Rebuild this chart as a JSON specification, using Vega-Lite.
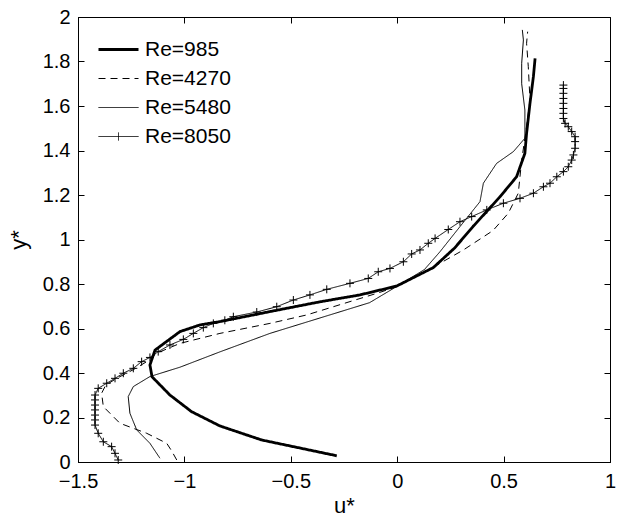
{
  "$schema": "https://vega.github.io/schema/vega-lite/v6.json",
  "autosize": {"type": "none"},
  "padding": {"left": 78, "top": 17, "right": 17, "bottom": 60},
  "width": 532,
  "height": 445,
  "background": "white",
  "config": {
    "view": {"stroke": "black", "strokeWidth": 1},
    "axis": {
      "grid": false,
      "domainColor": "black",
      "tickColor": "black",
      "labelColor": "black",
      "titleColor": "black",
      "labelFont": "Liberation Sans",
      "titleFont": "Liberation Sans",
      "labelFontSize": 20,
      "titleFontSize": 22,
      "titleFontWeight": "normal",
      "labelFlush": false,
      "labelOverlap": false,
      "tickSize": -6,
      "labelPadding": 14
    }
  },
  "data": {
    "values": [
      {"s": "Re=985", "u": -0.284, "y": 0.028},
      {"s": "Re=985", "u": -0.637, "y": 0.099},
      {"s": "Re=985", "u": -0.833, "y": 0.162},
      {"s": "Re=985", "u": -0.966, "y": 0.226},
      {"s": "Re=985", "u": -1.068, "y": 0.301},
      {"s": "Re=985", "u": -1.152, "y": 0.383},
      {"s": "Re=985", "u": -1.162, "y": 0.436},
      {"s": "Re=985", "u": -1.138, "y": 0.503},
      {"s": "Re=985", "u": -1.021, "y": 0.586},
      {"s": "Re=985", "u": -0.927, "y": 0.616},
      {"s": "Re=985", "u": -0.833, "y": 0.631},
      {"s": "Re=985", "u": -0.598, "y": 0.676},
      {"s": "Re=985", "u": -0.363, "y": 0.72},
      {"s": "Re=985", "u": -0.175, "y": 0.751},
      {"s": "Re=985", "u": -0.002, "y": 0.791},
      {"s": "Re=985", "u": 0.17, "y": 0.874},
      {"s": "Re=985", "u": 0.27, "y": 0.962},
      {"s": "Re=985", "u": 0.356, "y": 1.058},
      {"s": "Re=985", "u": 0.483, "y": 1.192},
      {"s": "Re=985", "u": 0.561, "y": 1.282},
      {"s": "Re=985", "u": 0.6, "y": 1.387},
      {"s": "Re=985", "u": 0.608, "y": 1.477},
      {"s": "Re=985", "u": 0.624, "y": 1.612},
      {"s": "Re=985", "u": 0.64, "y": 1.732},
      {"s": "Re=985", "u": 0.648, "y": 1.814},

      {"s": "Re=4270", "u": -1.036, "y": 0.009},
      {"s": "Re=4270", "u": -1.06, "y": 0.05},
      {"s": "Re=4270", "u": -1.083, "y": 0.084},
      {"s": "Re=4270", "u": -1.177, "y": 0.129},
      {"s": "Re=4270", "u": -1.303, "y": 0.174},
      {"s": "Re=4270", "u": -1.381, "y": 0.249},
      {"s": "Re=4270", "u": -1.389, "y": 0.309},
      {"s": "Re=4270", "u": -1.37, "y": 0.345},
      {"s": "Re=4270", "u": -1.32, "y": 0.375},
      {"s": "Re=4270", "u": -1.24, "y": 0.415},
      {"s": "Re=4270", "u": -1.17, "y": 0.455},
      {"s": "Re=4270", "u": -1.13, "y": 0.489},
      {"s": "Re=4270", "u": -1.021, "y": 0.533},
      {"s": "Re=4270", "u": -0.833, "y": 0.578},
      {"s": "Re=4270", "u": -0.598, "y": 0.623},
      {"s": "Re=4270", "u": -0.425, "y": 0.661},
      {"s": "Re=4270", "u": -0.096, "y": 0.758},
      {"s": "Re=4270", "u": 0.0, "y": 0.788},
      {"s": "Re=4270", "u": 0.15, "y": 0.865},
      {"s": "Re=4270", "u": 0.311, "y": 0.953},
      {"s": "Re=4270", "u": 0.45, "y": 1.04},
      {"s": "Re=4270", "u": 0.522, "y": 1.118},
      {"s": "Re=4270", "u": 0.569, "y": 1.208},
      {"s": "Re=4270", "u": 0.585, "y": 1.357},
      {"s": "Re=4270", "u": 0.608, "y": 1.507},
      {"s": "Re=4270", "u": 0.624, "y": 1.627},
      {"s": "Re=4270", "u": 0.616, "y": 1.777},
      {"s": "Re=4270", "u": 0.608, "y": 1.882},
      {"s": "Re=4270", "u": 0.613, "y": 1.934},

      {"s": "Re=5480", "u": -1.115, "y": 0.017},
      {"s": "Re=5480", "u": -1.162, "y": 0.084},
      {"s": "Re=5480", "u": -1.224, "y": 0.144},
      {"s": "Re=5480", "u": -1.256, "y": 0.219},
      {"s": "Re=5480", "u": -1.264, "y": 0.294},
      {"s": "Re=5480", "u": -1.24, "y": 0.339},
      {"s": "Re=5480", "u": -1.162, "y": 0.384},
      {"s": "Re=5480", "u": -1.021, "y": 0.426},
      {"s": "Re=5480", "u": -0.833, "y": 0.495},
      {"s": "Re=5480", "u": -0.598, "y": 0.578},
      {"s": "Re=5480", "u": -0.13, "y": 0.716},
      {"s": "Re=5480", "u": -0.002, "y": 0.789},
      {"s": "Re=5480", "u": 0.128, "y": 0.865},
      {"s": "Re=5480", "u": 0.201, "y": 0.945},
      {"s": "Re=5480", "u": 0.295, "y": 1.058},
      {"s": "Re=5480", "u": 0.389, "y": 1.17},
      {"s": "Re=5480", "u": 0.405, "y": 1.253},
      {"s": "Re=5480", "u": 0.467, "y": 1.342},
      {"s": "Re=5480", "u": 0.546, "y": 1.395},
      {"s": "Re=5480", "u": 0.6, "y": 1.455},
      {"s": "Re=5480", "u": 0.6, "y": 1.582},
      {"s": "Re=5480", "u": 0.585, "y": 1.7},
      {"s": "Re=5480", "u": 0.585, "y": 1.792},
      {"s": "Re=5480", "u": 0.593, "y": 1.897},
      {"s": "Re=5480", "u": 0.588, "y": 1.942},

      {"s": "Re=8050", "u": -1.311, "y": 0.009},
      {"s": "Re=8050", "u": -1.326, "y": 0.039},
      {"s": "Re=8050", "u": -1.342, "y": 0.069},
      {"s": "Re=8050", "u": -1.381, "y": 0.091},
      {"s": "Re=8050", "u": -1.405, "y": 0.129},
      {"s": "Re=8050", "u": -1.42, "y": 0.166},
      {"s": "Re=8050", "u": -1.42, "y": 0.189},
      {"s": "Re=8050", "u": -1.42, "y": 0.211},
      {"s": "Re=8050", "u": -1.42, "y": 0.234},
      {"s": "Re=8050", "u": -1.42, "y": 0.256},
      {"s": "Re=8050", "u": -1.42, "y": 0.279},
      {"s": "Re=8050", "u": -1.42, "y": 0.301},
      {"s": "Re=8050", "u": -1.405, "y": 0.331},
      {"s": "Re=8050", "u": -1.365, "y": 0.354},
      {"s": "Re=8050", "u": -1.326, "y": 0.376},
      {"s": "Re=8050", "u": -1.287, "y": 0.399},
      {"s": "Re=8050", "u": -1.24, "y": 0.421},
      {"s": "Re=8050", "u": -1.201, "y": 0.451},
      {"s": "Re=8050", "u": -1.162, "y": 0.47},
      {"s": "Re=8050", "u": -1.123, "y": 0.496},
      {"s": "Re=8050", "u": -1.068, "y": 0.526},
      {"s": "Re=8050", "u": -1.005, "y": 0.551},
      {"s": "Re=8050", "u": -0.958, "y": 0.578},
      {"s": "Re=8050", "u": -0.911, "y": 0.604},
      {"s": "Re=8050", "u": -0.864, "y": 0.623},
      {"s": "Re=8050", "u": -0.81, "y": 0.637},
      {"s": "Re=8050", "u": -0.77, "y": 0.653},
      {"s": "Re=8050", "u": -0.66, "y": 0.674},
      {"s": "Re=8050", "u": -0.566, "y": 0.698},
      {"s": "Re=8050", "u": -0.488, "y": 0.728},
      {"s": "Re=8050", "u": -0.41, "y": 0.751},
      {"s": "Re=8050", "u": -0.331, "y": 0.776},
      {"s": "Re=8050", "u": -0.222, "y": 0.803},
      {"s": "Re=8050", "u": -0.136, "y": 0.825},
      {"s": "Re=8050", "u": -0.089, "y": 0.855},
      {"s": "Re=8050", "u": -0.034, "y": 0.87},
      {"s": "Re=8050", "u": 0.029, "y": 0.9},
      {"s": "Re=8050", "u": 0.068, "y": 0.935},
      {"s": "Re=8050", "u": 0.107, "y": 0.953},
      {"s": "Re=8050", "u": 0.146, "y": 0.983},
      {"s": "Re=8050", "u": 0.178, "y": 1.005},
      {"s": "Re=8050", "u": 0.24, "y": 1.045},
      {"s": "Re=8050", "u": 0.295, "y": 1.08},
      {"s": "Re=8050", "u": 0.35, "y": 1.103},
      {"s": "Re=8050", "u": 0.421, "y": 1.133},
      {"s": "Re=8050", "u": 0.499, "y": 1.163},
      {"s": "Re=8050", "u": 0.577, "y": 1.185},
      {"s": "Re=8050", "u": 0.64, "y": 1.208},
      {"s": "Re=8050", "u": 0.687, "y": 1.237},
      {"s": "Re=8050", "u": 0.718, "y": 1.253},
      {"s": "Re=8050", "u": 0.75, "y": 1.282},
      {"s": "Re=8050", "u": 0.781, "y": 1.305},
      {"s": "Re=8050", "u": 0.804, "y": 1.327},
      {"s": "Re=8050", "u": 0.82, "y": 1.357},
      {"s": "Re=8050", "u": 0.828, "y": 1.38},
      {"s": "Re=8050", "u": 0.836, "y": 1.41},
      {"s": "Re=8050", "u": 0.836, "y": 1.44},
      {"s": "Re=8050", "u": 0.836, "y": 1.462},
      {"s": "Re=8050", "u": 0.82, "y": 1.485},
      {"s": "Re=8050", "u": 0.804, "y": 1.507},
      {"s": "Re=8050", "u": 0.789, "y": 1.522},
      {"s": "Re=8050", "u": 0.781, "y": 1.544},
      {"s": "Re=8050", "u": 0.781, "y": 1.567},
      {"s": "Re=8050", "u": 0.781, "y": 1.589},
      {"s": "Re=8050", "u": 0.781, "y": 1.612},
      {"s": "Re=8050", "u": 0.781, "y": 1.634},
      {"s": "Re=8050", "u": 0.781, "y": 1.657},
      {"s": "Re=8050", "u": 0.781, "y": 1.679},
      {"s": "Re=8050", "u": 0.781, "y": 1.694}
    ]
  },
  "layer": [
    {
      "mark": {"type": "line", "color": "black"},
      "encoding": {
        "x": {
          "field": "u", "type": "quantitative", "title": "u*",
          "scale": {"domain": [-1.5, 1], "nice": false, "zero": false},
          "axis": {"values": [-1.5, -1, -0.5, 0, 0.5, 1], "format": "~g", "titlePadding": 4, "labelPadding": 15}
        },
        "y": {
          "field": "y", "type": "quantitative", "title": "y*",
          "scale": {"domain": [0, 2], "nice": false},
          "axis": {"values": [0, 0.2, 0.4, 0.6, 0.8, 1, 1.2, 1.4, 1.6, 1.8, 2], "format": "~g", "titlePadding": 12}
        },
        "order": {"field": "y", "type": "quantitative"},
        "strokeWidth": {"condition": {"test": "datum.s === 'Re=985'", "value": 2.8}, "value": 1},
        "strokeDash": {
          "field": "s", "type": "nominal",
          "scale": {"domain": ["Re=985", "Re=4270", "Re=5480", "Re=8050"], "range": [[1, 0], [7, 5], [1, 0], [1, 0]]},
          "legend": {
            "title": null,
            "orient": "none",
            "legendX": 30,
            "legendY": 22,
            "padding": 0,
            "symbolType": "M-1,0H1",
            "symbolSize": 1600,
            "symbolStrokeColor": "black",
            "symbolFillColor": "transparent",
            "labelFont": "Liberation Sans",
            "labelFontSize": 21,
            "labelColor": "black",
            "labelOffset": 16,
            "rowPadding": 7,
            "encode": {
              "symbols": {
                "update": {
                  "shape": {"signal": "datum.value === 'Re=8050' ? 'M-1,0H1M0,-0.2V0.2' : 'M-1,0H1'"},
                  "strokeWidth": {"signal": "datum.value === 'Re=985' ? 2.8 : 1"}
                }
              }
            }
          }
        }
      }
    },
    {
      "transform": [{"filter": "datum.s === 'Re=8050'"}],
      "mark": {"type": "point", "shape": "M-1,0H1M0,-1V1", "filled": false, "stroke": "black", "strokeWidth": 1, "size": 64, "opacity": 1},
      "encoding": {
        "x": {
          "field": "u", "type": "quantitative",
          "scale": {"domain": [-1.5, 1], "nice": false, "zero": false},
          "axis": {"orient": "top", "values": [-1.5, -1, -0.5, 0, 0.5, 1], "labels": false, "domain": false, "title": null}
        },
        "y": {
          "field": "y", "type": "quantitative",
          "scale": {"domain": [0, 2], "nice": false},
          "axis": {"orient": "right", "values": [0, 0.2, 0.4, 0.6, 0.8, 1, 1.2, 1.4, 1.6, 1.8, 2], "labels": false, "domain": false, "title": null}
        }
      }
    }
  ],
  "resolve": {"axis": {"x": "independent", "y": "independent"}}
}
